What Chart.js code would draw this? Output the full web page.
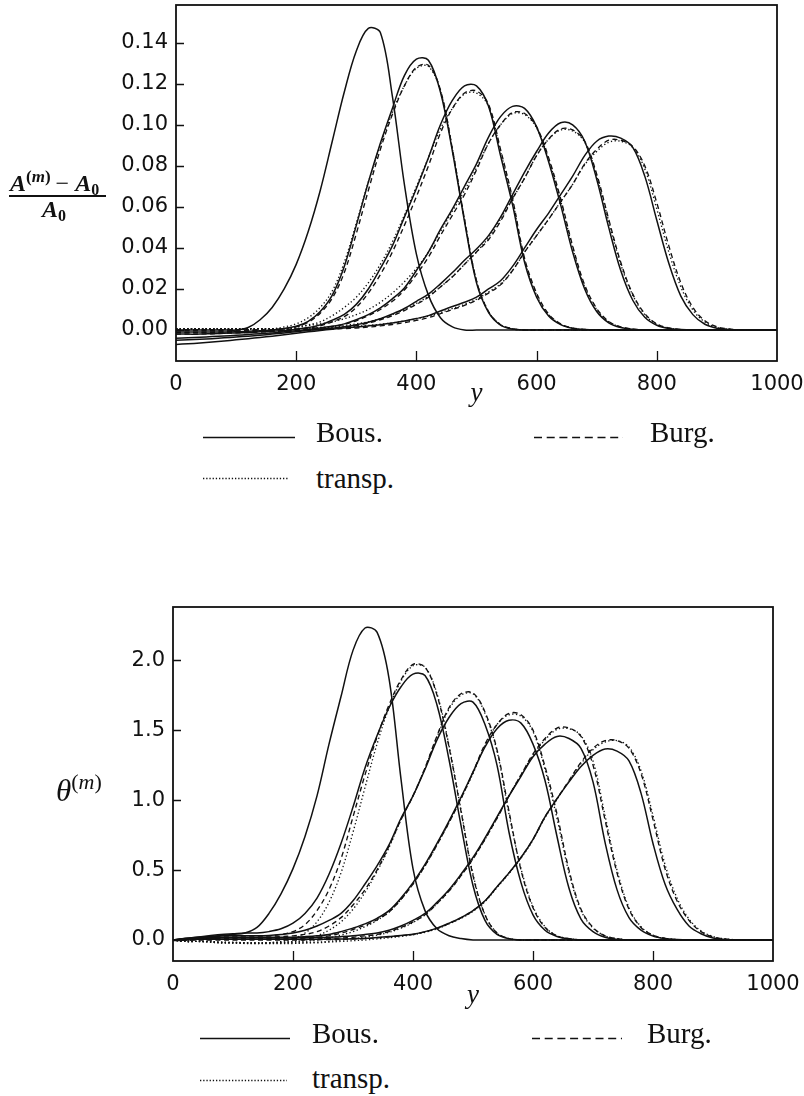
<!DOCTYPE html>
<html>
<head>
<meta charset="utf-8">
<script src="https://cdn.jsdelivr.net/npm/chart.js@4/dist/chart.umd.min.js"></script>
<style>
  html, body { margin: 0; padding: 0; background: #fff; }
  #page { position: relative; width: 804px; height: 1096px; overflow: hidden; background: #fff; }
  canvas { position: absolute; left: 0; }
  #chartA { top: 0; }
  #chartT { top: 590px; }
  .txt { position: absolute; font-family: 'Liberation Serif', 'Times New Roman', serif; color: #111; white-space: nowrap; line-height: 1; }
  .leg { font-size: 29px; }
  .sup { position: relative; font-style: normal; }
  .sub { position: relative; font-style: normal; }
  #fracBar { position: absolute; left: 9px; top: 195px; width: 97px; height: 1.7px; background: #111; }
  svg { position: absolute; left: 0; top: 0; }
</style>
</head>
<body>
<div id="page">
  <canvas id="chartA" width="804" height="420"></canvas>
  <canvas id="chartT" width="804" height="430"></canvas>

  <!-- vertical axis titles -->
  <div class="txt" style="left:10px; top:171px; font-size:24px; font-weight:bold;">
    <i>A</i><span class="sup" style="top:-9px; font-size:17px; font-weight:bold;">(<i>m</i>)</span><span style="font-weight:normal; padding:0 6px 0 5px;">−</span><i>A</i><span class="sub" style="top:4px; font-size:16px;">0</span>
  </div>
  <div id="fracBar"></div>
  <div class="txt" style="left:42px; top:197px; font-size:24px; font-weight:bold;">
    <i>A</i><span class="sub" style="top:4px; font-size:16px;">0</span>
  </div>
  <div class="txt" style="left:56px; top:775px; font-size:31px;">
    <i>θ</i><span class="sup" style="top:-12px; font-size:22px;">(<i>m</i>)</span>
  </div>

  <!-- legend texts -->
  <div class="txt leg" style="left:316px; top:418px;">Bous.</div>
  <div class="txt leg" style="left:650px; top:418px;">Burg.</div>
  <div class="txt leg" style="left:316px; top:464px;">transp.</div>
  <div class="txt leg" style="left:312px; top:1019px;">Bous.</div>
  <div class="txt leg" style="left:647px; top:1019px;">Burg.</div>
  <div class="txt leg" style="left:312px; top:1064px;">transp.</div>

  <!-- legend line samples -->
  <svg width="804" height="1096">
    <g stroke="#111" stroke-width="1.6" fill="none">
      <line x1="203" y1="437.5" x2="295" y2="437.5"/>
      <line x1="534" y1="437.5" x2="623" y2="437.5" stroke-dasharray="8 4.7"/>
      <line x1="203" y1="478.5" x2="288" y2="478.5" stroke-dasharray="1.3 1.9"/>
      <line x1="200" y1="1038.5" x2="290" y2="1038.5"/>
      <line x1="532" y1="1038.5" x2="622" y2="1038.5" stroke-dasharray="8 4.7"/>
      <line x1="200" y1="1080.5" x2="287" y2="1080.5" stroke-dasharray="1.3 1.9"/>
    </g>
  </svg>
</div>

<script>
// sample positions along y (0 .. 1000, step 20)
const yGrid = Array.from({ length: 51 }, (_, i) => i * 20);
const yAxisTicks = [0, 200, 400, 600, 800, 1000];
const aTicks = [0, 0.02, 0.04, 0.06, 0.08, 0.10, 0.12, 0.14];
const thetaTicks = [0, 0.5, 1.0, 1.5, 2.0];

// ---- (A^(m) - A0) / A0 profiles, one array per pulse and model ----
const aPulse1 = [
  0, 0, 0, 0, 0,  0, 0.0012, 0.005, 0.011, 0.020,  0.032, 0.048, 0.068, 0.092, 0.116,
  0.136, 0.147, 0.145, 0.114, 0.071,  0.037, 0.017, 0.006, 0.0015, 0,  0, 0, 0, 0, 0,
  0, 0, 0, 0, 0,  0, 0, 0, 0, 0,  0, 0, 0, 0, 0,  0, 0, 0, 0, 0,  0];
const aBous2 = [
  -0.001, -0.001, -0.001, -0.001, -0.001,  -0.0009, -0.0006, -0.0003, 0, 0.0008,  0.0018, 0.0042, 0.009, 0.017, 0.031,
  0.051, 0.072, 0.091, 0.108, 0.124,  0.132, 0.1315, 0.116, 0.087, 0.053,  0.023, 0.0086, 0.0024, 0.0005, 0,
  0, 0, 0, 0, 0,  0, 0, 0, 0, 0,  0, 0, 0, 0, 0,  0, 0, 0, 0, 0,  0];
const aBurg2 = [
  0, 0, 0, 0, 0,  0, 0, 0, 0, 0.0007,  0.0016, 0.0038, 0.0082, 0.0155, 0.028,
  0.047, 0.068, 0.088, 0.105, 0.119,  0.128, 0.129, 0.117, 0.088, 0.054,  0.024, 0.009, 0.0026, 0.0006, 0,
  0, 0, 0, 0, 0,  0, 0, 0, 0, 0,  0, 0, 0, 0, 0,  0, 0, 0, 0, 0,  0];
const aTransp2 = [
  0.0006, 0.0006, 0.0006, 0.0006, 0.0006,  0.0006, 0.0006, 0.0006, 0.0006, 0.0015,  0.003, 0.006, 0.011, 0.019, 0.033,
  0.052, 0.072, 0.090, 0.106, 0.119,  0.1275, 0.1285, 0.1165, 0.088, 0.054,  0.024, 0.009, 0.0026, 0.0006, 0,
  0, 0, 0, 0, 0,  0, 0, 0, 0, 0,  0, 0, 0, 0, 0,  0, 0, 0, 0, 0,  0];
const aBous3 = [
  -0.002, -0.002, -0.002, -0.0018, -0.0016,  -0.0014, -0.0012, -0.0009, -0.0006, -0.0002,  0.0004, 0.0012, 0.0025, 0.0048, 0.0076,
  0.0125, 0.020, 0.030, 0.041, 0.055,  0.069, 0.084, 0.100, 0.112, 0.119,  0.119, 0.109, 0.085, 0.061, 0.033,
  0.016, 0.0068, 0.0026, 0.0008, 0.0002,  0, 0, 0, 0, 0,  0, 0, 0, 0, 0,  0, 0, 0, 0, 0,  0];
const aBurg3 = [
  0, 0, 0, 0, 0,  0, 0, 0, 0, 0,  0.0005, 0.001, 0.002, 0.004, 0.0065,
  0.011, 0.018, 0.027, 0.038, 0.051,  0.065, 0.080, 0.096, 0.108, 0.1155,  0.1165, 0.110, 0.088, 0.064, 0.035,
  0.018, 0.0078, 0.003, 0.001, 0.0003,  0, 0, 0, 0, 0,  0, 0, 0, 0, 0,  0, 0, 0, 0, 0,  0];
const aTransp3 = [
  0.0006, 0.0006, 0.0006, 0.0006, 0.0006,  0.0006, 0.0006, 0.0006, 0.0006, 0.0006,  0.0015, 0.0025, 0.004, 0.007, 0.011,
  0.016, 0.023, 0.032, 0.043, 0.056,  0.070, 0.084, 0.098, 0.108, 0.115,  0.1155, 0.109, 0.087, 0.063, 0.034,
  0.017, 0.0074, 0.0028, 0.0009, 0.0002,  0, 0, 0, 0, 0,  0, 0, 0, 0, 0,  0, 0, 0, 0, 0,  0];
const aBous4 = [
  -0.004, -0.0038, -0.0035, -0.0032, -0.0029,  -0.0026, -0.0022, -0.0018, -0.0014, -0.0009,  -0.0004, 0.0003, 0.001, 0.0018, 0.003,
  0.005, 0.0075, 0.0108, 0.0152, 0.0205,  0.029, 0.038, 0.049, 0.059, 0.070,  0.081, 0.094, 0.104, 0.109, 0.108,
  0.099, 0.082, 0.061, 0.038, 0.020,  0.009, 0.0035, 0.0012, 0.0004, 0,  0, 0, 0, 0, 0,  0, 0, 0, 0, 0,  0];
const aBurg4 = [
  -0.001, -0.001, -0.001, -0.001, -0.0009,  -0.0008, -0.0007, -0.0005, -0.0003, -0.0001,  0, 0.0005, 0.001, 0.0017, 0.0028,
  0.0045, 0.007, 0.010, 0.014, 0.0195,  0.027, 0.0355, 0.046, 0.056, 0.066,  0.078, 0.091, 0.100, 0.106, 0.1055,
  0.099, 0.084, 0.064, 0.041, 0.022,  0.0105, 0.0042, 0.0015, 0.0005, 0,  0, 0, 0, 0, 0,  0, 0, 0, 0, 0,  0];
const aTransp4 = [
  0.0006, 0.0006, 0.0006, 0.0006, 0.0006,  0.0006, 0.0006, 0.0006, 0.0006, 0.0006,  0.0015, 0.0022, 0.003, 0.004, 0.0055,
  0.0075, 0.010, 0.0135, 0.018, 0.0235,  0.030, 0.038, 0.048, 0.058, 0.068,  0.079, 0.091, 0.100, 0.1055, 0.105,
  0.0985, 0.083, 0.063, 0.040, 0.021,  0.010, 0.004, 0.0014, 0.0004, 0,  0, 0, 0, 0, 0,  0, 0, 0, 0, 0,  0];
const aBous5 = [
  -0.005, -0.0048, -0.0045, -0.0042, -0.0038,  -0.0034, -0.003, -0.0025, -0.002, -0.0014,  -0.0008, -0.0002, 0.0004, 0.0009, 0.0016,
  0.0026, 0.0038, 0.0055, 0.0078, 0.0105,  0.014, 0.0175, 0.0225, 0.028, 0.034,  0.0395, 0.046, 0.055, 0.066, 0.077,
  0.087, 0.096, 0.101, 0.100, 0.092,  0.0735, 0.050, 0.029, 0.0145, 0.0062,  0.0023, 0.0007, 0.0002, 0, 0,  0, 0, 0, 0, 0,  0];
const aBurg5 = [
  -0.0012, -0.0012, -0.0011, -0.001, -0.001,  -0.0009, -0.0008, -0.0006, -0.0004, -0.0002,  0, 0.0002, 0.0004, 0.0007, 0.0013,
  0.0022, 0.0034, 0.005, 0.007, 0.0095,  0.0125, 0.016, 0.021, 0.026, 0.032,  0.038, 0.044, 0.053, 0.064, 0.074,
  0.085, 0.093, 0.098, 0.0975, 0.092,  0.076, 0.054, 0.033, 0.0175, 0.008,  0.003, 0.001, 0.0003, 0, 0,  0, 0, 0, 0, 0,  0];
const aTransp5 = [
  0.0006, 0.0006, 0.0006, 0.0006, 0.0006,  0.0006, 0.0006, 0.0006, 0.0006, 0.0006,  0.0008, 0.001, 0.0012, 0.0015, 0.0022,
  0.003, 0.004, 0.0055, 0.0075, 0.010,  0.013, 0.0165, 0.021, 0.026, 0.032,  0.038, 0.045, 0.054, 0.064, 0.074,
  0.085, 0.093, 0.0975, 0.097, 0.0915,  0.075, 0.053, 0.032, 0.017, 0.0075,  0.0028, 0.0009, 0.0002, 0, 0,  0, 0, 0, 0, 0,  0];
const aBous6 = [
  -0.007, -0.0067, -0.0063, -0.0058, -0.0053,  -0.0048, -0.0042, -0.0036, -0.003, -0.0023,  -0.0016, -0.0009, -0.0002, 0.0004, 0.001,
  0.0015, 0.002, 0.0026, 0.0034, 0.0044,  0.0056, 0.007, 0.0093, 0.0115, 0.0135,  0.016, 0.020, 0.024, 0.031, 0.040,
  0.049, 0.057, 0.066, 0.075, 0.085,  0.092, 0.0945, 0.0935, 0.089, 0.075,  0.0535, 0.0325, 0.0165, 0.0075, 0.0028,
  0.0009, 0.0003, 0, 0, 0,  0];
const aBurg6 = [
  -0.002, -0.002, -0.0019, -0.0018, -0.0016,  -0.0014, -0.0012, -0.001, -0.0008, -0.0005,  -0.0002, 0, 0.0002, 0.0004, 0.0007,
  0.001, 0.0014, 0.002, 0.0027, 0.0036,  0.0047, 0.006, 0.008, 0.010, 0.012,  0.0145, 0.018, 0.022, 0.029, 0.038,
  0.046, 0.054, 0.0625, 0.071, 0.081,  0.088, 0.0925, 0.0925, 0.0895, 0.080,  0.062, 0.041, 0.023, 0.011, 0.0045,
  0.0016, 0.0005, 0.0001, 0, 0,  0];
const aTransp6 = [
  0.0006, 0.0006, 0.0006, 0.0006, 0.0006,  0.0006, 0.0006, 0.0006, 0.0006, 0.0006,  0.0006, 0.0008, 0.001, 0.0012, 0.0015,
  0.0018, 0.0022, 0.0028, 0.0035, 0.0044,  0.0055, 0.0068, 0.0085, 0.0105, 0.0125,  0.015, 0.0185, 0.0225, 0.029, 0.038,
  0.046, 0.054, 0.0625, 0.071, 0.0805,  0.087, 0.0915, 0.092, 0.089, 0.0785,  0.059, 0.038, 0.021, 0.0098, 0.0039,
  0.0013, 0.0004, 0, 0, 0,  0];

// ---- theta^(m) profiles ----
const tPulse1 = [
  0, 0.005, 0.01, 0.02, 0.03,  0.04, 0.05, 0.09, 0.19, 0.33,  0.51, 0.74, 1.03, 1.40, 1.74,
  2.07, 2.23, 2.20, 1.87, 1.15,  0.51, 0.21, 0.08, 0.03, 0.01,  0, 0, 0, 0, 0,
  0, 0, 0, 0, 0,  0, 0, 0, 0, 0,  0, 0, 0, 0, 0,  0, 0, 0, 0, 0,  0];
const tBous2 = [
  0, 0.01, 0.02, 0.03, 0.04,  0.045, 0.05, 0.05, 0.06, 0.08,  0.12, 0.19, 0.30, 0.47, 0.69,
  0.95, 1.23, 1.46, 1.66, 1.81,  1.90, 1.89, 1.68, 1.29, 0.82,  0.39, 0.14, 0.04, 0.01, 0,
  0, 0, 0, 0, 0,  0, 0, 0, 0, 0,  0, 0, 0, 0, 0,  0, 0, 0, 0, 0,  0];
const tBurg2 = [
  0, 0, 0.01, 0.02, 0.03,  0.03, 0.03, 0.03, 0.03, 0.04,  0.06, 0.11, 0.21, 0.36, 0.58,
  0.88, 1.18, 1.45, 1.68, 1.86,  1.97, 1.95, 1.75, 1.38, 0.92,  0.46, 0.18, 0.05, 0.01, 0,
  0, 0, 0, 0, 0,  0, 0, 0, 0, 0,  0, 0, 0, 0, 0,  0, 0, 0, 0, 0,  0];
const tTransp2 = [
  0, -0.01, -0.01, -0.01, -0.02,  -0.02, -0.02, -0.02, -0.02, -0.01,  0.01, 0.05, 0.13, 0.27, 0.48,
  0.77, 1.09, 1.40, 1.66, 1.85,  1.96, 1.95, 1.76, 1.39, 0.93,  0.47, 0.18, 0.05, 0.01, 0,
  0, 0, 0, 0, 0,  0, 0, 0, 0, 0,  0, 0, 0, 0, 0,  0, 0, 0, 0, 0,  0];
const tBous3 = [
  0, 0.01, 0.02, 0.025, 0.03,  0.03, 0.03, 0.03, 0.033, 0.04,  0.05, 0.07, 0.10, 0.14, 0.19,
  0.28, 0.40, 0.53, 0.68, 0.87,  1.03, 1.22, 1.43, 1.59, 1.69,  1.70, 1.54, 1.25, 0.77, 0.41,
  0.18, 0.07, 0.025, 0.007, 0,  0, 0, 0, 0, 0,  0, 0, 0, 0, 0,  0, 0, 0, 0, 0,  0];
const tBurg3 = [
  0, 0, 0.01, 0.01, 0.02,  0.02, 0.02, 0.02, 0.02, 0.025,  0.03, 0.04, 0.06, 0.10, 0.16,
  0.25, 0.36, 0.50, 0.67, 0.86,  1.03, 1.23, 1.46, 1.66, 1.76,  1.765, 1.63, 1.36, 0.92, 0.50,
  0.23, 0.09, 0.03, 0.01, 0,  0, 0, 0, 0, 0,  0, 0, 0, 0, 0,  0, 0, 0, 0, 0,  0];
const tTransp3 = [
  0, -0.01, -0.01, -0.015, -0.02,  -0.02, -0.025, -0.025, -0.02, -0.015,  -0.01, 0, 0.03, 0.07, 0.13,
  0.22, 0.34, 0.49, 0.66, 0.86,  1.03, 1.23, 1.45, 1.65, 1.75,  1.76, 1.62, 1.35, 0.90, 0.51,
  0.24, 0.095, 0.03, 0.01, 0,  0, 0, 0, 0, 0,  0, 0, 0, 0, 0,  0, 0, 0, 0, 0,  0];
const tBous4 = [
  0, 0.01, 0.015, 0.02, 0.02,  0.02, 0.02, 0.02, 0.02, 0.02,  0.02, 0.024, 0.03, 0.04, 0.06,
  0.085, 0.115, 0.155, 0.21, 0.30,  0.41, 0.54, 0.69, 0.85, 1.02,  1.20, 1.38, 1.51, 1.57, 1.55,
  1.40, 1.14, 0.74, 0.37, 0.15,  0.06, 0.02, 0.006, 0, 0,  0, 0, 0, 0, 0,  0, 0, 0, 0, 0,  0];
const tBurg4 = [
  0, 0.005, 0.01, 0.01, 0.01,  0.01, 0.01, 0.01, 0.01, 0.01,  0.01, 0.015, 0.02, 0.03, 0.05,
  0.075, 0.105, 0.145, 0.20, 0.29,  0.40, 0.53, 0.68, 0.84, 1.01,  1.20, 1.40, 1.54, 1.62, 1.61,
  1.50, 1.24, 0.90, 0.50, 0.22,  0.09, 0.03, 0.01, 0, 0,  0, 0, 0, 0, 0,  0, 0, 0, 0, 0,  0];
const tTransp4 = [
  0, -0.01, -0.01, -0.015, -0.02,  -0.02, -0.02, -0.02, -0.02, -0.02,  -0.015, -0.01, 0, 0.015, 0.035,
  0.06, 0.095, 0.14, 0.20, 0.29,  0.40, 0.53, 0.68, 0.84, 1.01,  1.19, 1.39, 1.54, 1.61, 1.60,
  1.49, 1.22, 0.87, 0.48, 0.21,  0.085, 0.03, 0.01, 0, 0,  0, 0, 0, 0, 0,  0, 0, 0, 0, 0,  0];
const tBous5 = [
  0, 0.005, 0.01, 0.012, 0.014,  0.015, 0.015, 0.015, 0.015, 0.015,  0.015, 0.016, 0.018, 0.02, 0.024,
  0.03, 0.04, 0.05, 0.07, 0.10,  0.14, 0.19, 0.27, 0.36, 0.47,  0.59, 0.73, 0.88, 1.03, 1.17,
  1.31, 1.40, 1.455, 1.44, 1.37,  1.13, 0.70, 0.36, 0.16, 0.07,  0.028, 0.01, 0.003, 0, 0,  0, 0, 0, 0, 0,  0];
const tBurg5 = [
  0, 0, 0.005, 0.005, 0.005,  0.005, 0.005, 0.005, 0.005, 0.005,  0.005, 0.006, 0.008, 0.01, 0.014,
  0.02, 0.03, 0.04, 0.06, 0.09,  0.13, 0.18, 0.26, 0.35, 0.46,  0.58, 0.72, 0.87, 1.03, 1.18,
  1.33, 1.44, 1.515, 1.515, 1.455,  1.25, 0.86, 0.48, 0.22, 0.09,  0.035, 0.012, 0.003, 0, 0,  0, 0, 0, 0, 0,  0];
const tTransp5 = [
  0, -0.01, -0.01, -0.01, -0.015,  -0.02, -0.02, -0.025, -0.025, -0.025,  -0.025, -0.02, -0.015, -0.01, 0,
  0.01, 0.02, 0.035, 0.055, 0.085,  0.125, 0.18, 0.26, 0.35, 0.46,  0.58, 0.72, 0.87, 1.03, 1.18,
  1.32, 1.43, 1.505, 1.51, 1.46,  1.28, 0.89, 0.50, 0.23, 0.095,  0.035, 0.012, 0.003, 0, 0,  0, 0, 0, 0, 0,  0];
const tBous6 = [
  0, 0, 0.005, 0.005, 0.005,  0.005, 0.005, 0.005, 0.005, 0.005,  0.005, 0.005, 0.005, 0.006, 0.007,
  0.009, 0.012, 0.018, 0.025, 0.032,  0.042, 0.06, 0.085, 0.12, 0.16,  0.21, 0.28, 0.38, 0.48, 0.59,
  0.72, 0.88, 1.01, 1.13, 1.24,  1.32, 1.365, 1.35, 1.28, 1.05,  0.69, 0.40, 0.22, 0.10, 0.045,
  0.015, 0.004, 0, 0, 0,  0];
const tBurg6 = [
  0, 0, 0, 0, 0,  0, 0, 0, 0, 0,  0, 0, 0.002, 0.003, 0.005,
  0.007, 0.01, 0.015, 0.022, 0.03,  0.04, 0.058, 0.083, 0.118, 0.158,  0.21, 0.28, 0.38, 0.48, 0.59,
  0.72, 0.88, 1.01, 1.14, 1.27,  1.37, 1.425, 1.425, 1.37, 1.19,  0.86, 0.51, 0.28, 0.14, 0.06,
  0.022, 0.007, 0.002, 0, 0,  0];
const tTransp6 = [
  0, -0.01, -0.01, -0.01, -0.015,  -0.015, -0.02, -0.02, -0.02, -0.02,  -0.02, -0.02, -0.02, -0.015, -0.01,
  -0.005, 0, 0.008, 0.016, 0.026,  0.037, 0.055, 0.08, 0.115, 0.155,  0.205, 0.275, 0.375, 0.475, 0.585,
  0.715, 0.875, 1.005, 1.135, 1.26,  1.36, 1.415, 1.425, 1.38, 1.21,  0.89, 0.54, 0.30, 0.15, 0.065,
  0.025, 0.008, 0.002, 0, 0,  0];

// line appearance for the three models
const modelDash = { bous: [], burg: [5, 3.5], transp: [1.3, 2.4] };
const ink = '#111';

function curve(values, model) {
  return {
    data: yGrid.map((x, i) => ({ x, y: values[i] })),
    borderColor: ink,
    borderWidth: model === 'bous' ? 1.5 : 1.35,
    borderDash: modelDash[model],
    pointRadius: 0,
    fill: false,
    tension: 0.35
  };
}

// box around the plot area and inward tick marks
const framePlugin = {
  id: 'frame',
  afterDraw(chart) {
    const { ctx, chartArea: a, scales } = chart;
    const xs = scales.x, ys = scales.y;
    ctx.save();
    ctx.strokeStyle = ink;
    ctx.lineWidth = 1.3;
    ctx.beginPath();
    ys.ticks.forEach(t => {
      const py = Math.round(ys.getPixelForValue(t.value)) + 0.5;
      ctx.moveTo(a.left, py); ctx.lineTo(a.left + 8, py);
    });
    xs.ticks.forEach(t => {
      if (t.value <= xs.min || t.value >= xs.max) return;
      const px = Math.round(xs.getPixelForValue(t.value)) + 0.5;
      ctx.moveTo(px, a.bottom); ctx.lineTo(px, a.bottom - 10);
    });
    ctx.stroke();
    ctx.lineWidth = 1.8;
    ctx.strokeRect(a.left, a.top, a.right - a.left, a.bottom - a.top);
    ctx.restore();
  }
};

function makeChart(canvasId, datasets, g) {
  return new Chart(document.getElementById(canvasId), {
    type: 'line',
    data: { datasets },
    plugins: [framePlugin],
    options: {
      responsive: false,
      animation: false,
      devicePixelRatio: 1,
      layout: { padding: { left: 0, top: g.top, right: g.right, bottom: g.bottom } },
      plugins: { legend: { display: false }, tooltip: { enabled: false } },
      scales: {
        x: {
          type: 'linear', min: 0, max: 1000,
          afterBuildTicks: ax => { ax.ticks = yAxisTicks.map(v => ({ value: v })); },
          afterFit: ax => { ax.height = g.xHeight; ax.paddingLeft = 0; ax.paddingRight = 0; },
          grid: { display: false, drawTicks: false },
          border: { display: false },
          ticks: {
            padding: 11, color: ink, maxRotation: 0, autoSkip: false,
            font: { family: 'DejaVu Sans', size: 21 },
            callback: v => String(v)
          },
          title: {
            display: true, text: 'y', color: ink, padding: 0,
            font: { family: 'Liberation Serif', style: 'italic', size: 27 }
          }
        },
        y: {
          type: 'linear', min: g.yMin, max: g.yMax,
          afterBuildTicks: ax => { ax.ticks = g.ticks.map(v => ({ value: v })); },
          afterFit: ax => { ax.width = g.yWidth; ax.paddingTop = 0; ax.paddingBottom = 0; },
          grid: { display: false, drawTicks: false },
          border: { display: false },
          ticks: {
            padding: 8, color: ink, autoSkip: false,
            font: { family: 'DejaVu Sans', size: 21 },
            callback: v => v.toFixed(g.digits)
          }
        }
      }
    }
  });
}

makeChart('chartA', [
  curve(aPulse1, 'bous'),
  curve(aBurg2, 'burg'), curve(aTransp2, 'transp'), curve(aBous2, 'bous'),
  curve(aBurg3, 'burg'), curve(aTransp3, 'transp'), curve(aBous3, 'bous'),
  curve(aBurg4, 'burg'), curve(aTransp4, 'transp'), curve(aBous4, 'bous'),
  curve(aBurg5, 'burg'), curve(aTransp5, 'transp'), curve(aBous5, 'bous'),
  curve(aBurg6, 'burg'), curve(aTransp6, 'transp'), curve(aBous6, 'bous')
], { top: 5, right: 27, bottom: 10, xHeight: 49, yWidth: 176, yMin: -0.0151, yMax: 0.1584, ticks: aTicks, digits: 2 });

makeChart('chartT', [
  curve(tPulse1, 'bous'),
  curve(tBurg2, 'burg'), curve(tTransp2, 'transp'), curve(tBous2, 'bous'),
  curve(tBurg3, 'burg'), curve(tTransp3, 'transp'), curve(tBous3, 'bous'),
  curve(tBurg4, 'burg'), curve(tTransp4, 'transp'), curve(tBous4, 'bous'),
  curve(tBurg5, 'burg'), curve(tTransp5, 'transp'), curve(tBous5, 'bous'),
  curve(tBurg6, 'burg'), curve(tTransp6, 'transp'), curve(tBous6, 'bous')
], { top: 17, right: 31, bottom: 8, xHeight: 51, yWidth: 173, yMin: -0.15, yMax: 2.38, ticks: thetaTicks, digits: 1 });
</script>
</body>
</html>
